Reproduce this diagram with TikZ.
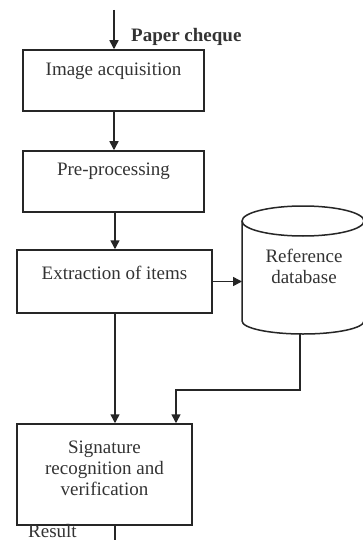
\documentclass[tikz,border=0pt]{standalone}
\usepackage{fontspec}
\setmainfont{Liberation Serif}
\usetikzlibrary{arrows.meta}
\begin{document}
\begin{tikzpicture}[x=1pt,y=-1pt,
  box/.style={draw=black!85, line width=1.5pt, rectangle, inner sep=0pt},
  lbl/.style={inner sep=0pt, text=black!80, font=\fontsize{19}{22}\selectfont, align=center},
  flow/.style={draw=black!85, line width=1.5pt, -{Triangle[length=9pt,width=9pt]}},
  plain/.style={draw=black!85, line width=1.5pt}]
\useasboundingbox (0,0) rectangle (363,540);
\clip (0,0) rectangle (363,540);
\fill[white] (0,0) rectangle (363,540);

% processing steps
\node[box, minimum width=181pt, minimum height=61pt] (acq) at (113.5,80.5) {};
\node[lbl] (acqT) at (113.5,71) {Image acquisition};
\node[box, minimum width=181pt, minimum height=61pt] (pre) at (113.5,181.5) {};
\node[lbl] (preT) at (113.5,171) {Pre-processing};
\node[box, minimum width=195pt, minimum height=63pt] (ext) at (114.5,281.5) {};
\node[lbl] (extT) at (114.5,273) {Extraction of items};
\node[box, minimum width=175pt, minimum height=101pt] (sig) at (104.5,474.5) {};
\node[lbl, text depth=0pt] (sigT) at (104.5,468) {Signature\\[-1pt]recognition and\\[-1pt]verification};

% reference database cylinder
\draw[plain] (303,221) ellipse [x radius=61, y radius=15];
\draw[plain] (242,221) -- (242,321) arc[start angle=180, end angle=360, x radius=61, y radius=-13] -- (364,221);
\node[lbl] (dbT) at (304,266) {Reference\\[-1pt]database};
\coordinate (dbB) at (300,333);
\coordinate (dbE) at (242,281.5);

% connectors
\coordinate (in) at (114,10);
\draw[flow] (in) -- (acq.north -| in);
\node[lbl, font=\bfseries\fontsize{19}{22}\selectfont, anchor=west] (paper) at (131,37) {Paper cheque};
\draw[flow] (acq.south -| 114,0) -- (pre.north -| 114,0);
\draw[flow] (pre.south -| 115,0) -- (ext.north -| 115,0);
\draw[flow] (ext.east) -- (dbE);
\draw[flow] (ext.south -| 115,0) -- (sig.north -| 115,0);
\draw[flow] (dbB) |- (176,390) -- (sig.north -| 176,0);
\coordinate (out) at (115,549);
\draw[flow] (sig.south -| out) -- (out);
\node[lbl, anchor=base west] (res) at (28,537) {Result};
\end{tikzpicture}
\end{document}
